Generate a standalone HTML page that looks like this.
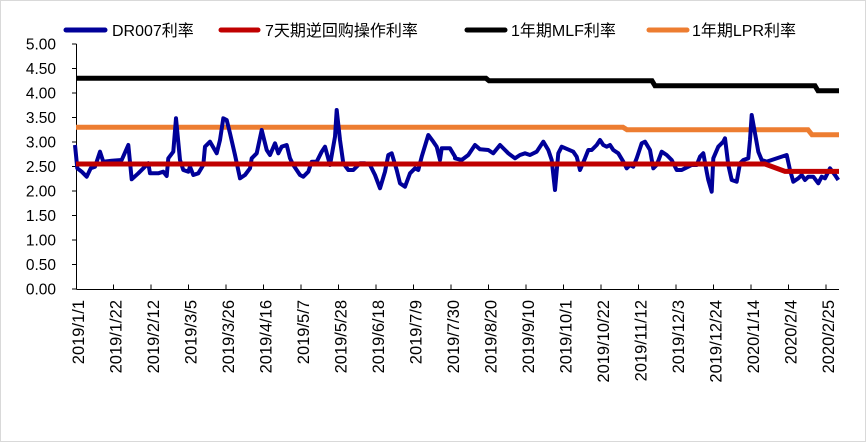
<!DOCTYPE html>
<html><head><meta charset="utf-8"><style>
body{margin:0;background:#fff;}
svg{display:block;font-family:"Liberation Sans","Noto Sans CJK SC",sans-serif;}
</style></head><body>
<svg id="s" width="866" height="442" xmlns="http://www.w3.org/2000/svg">
<rect x="0.5" y="0.5" width="865" height="441" fill="#fff" stroke="#d9d9d9"/>
<g font-size="16" fill="#000">
<line x1="66" y1="30" x2="105" y2="30" stroke="#000099" stroke-width="5" stroke-linecap="round"/>
<text x="112" y="36">DR007利率</text>
<line x1="221" y1="30" x2="258" y2="30" stroke="#c00000" stroke-width="5" stroke-linecap="round"/>
<text x="265" y="36">7天期逆回购操作利率</text>
<line x1="467" y1="30" x2="505" y2="30" stroke="#000" stroke-width="5" stroke-linecap="round"/>
<text x="511" y="36">1年期MLF利率</text>
<line x1="649" y1="30" x2="687" y2="30" stroke="#ed7d31" stroke-width="5" stroke-linecap="round"/>
<text x="692" y="36">1年期LPR利率</text>
</g>
<g id="ax" stroke="#000" stroke-width="1"></g>
<g id="yl" font-size="15.5" text-anchor="end"></g>
<g id="xl" font-size="16.5"></g>
<polyline points="76,78.3 486,78.3 489,80.8 652,80.8 655,85.8 815,85.8 818,90.8 839,90.8" fill="none" stroke="#000" stroke-width="5"/>
<polyline points="76,127.3 623,127.3 627,129.8 808,129.8 812,134.8 839,134.8" fill="none" stroke="#ed7d31" stroke-width="5"/>
<polyline id="dr" fill="none" stroke="#000099" stroke-width="4" stroke-linejoin="round"/>
<polyline points="76,164 765,164 785,171.4 839,171.4" fill="none" stroke="#c00000" stroke-width="5"/>
</svg>
<script>
var ns="http://www.w3.org/2000/svg";
function el(p,t,a,txt){var e=document.createElementNS(ns,t);for(var k in a)e.setAttribute(k,a[k]);if(txt)e.textContent=txt;document.getElementById(p).appendChild(e);}
el("ax","line",{x1:76.5,y1:44,x2:76.5,y2:289.5});
el("ax","line",{x1:76.5,y1:289.5,x2:839,y2:289.5});
for(var i=0;i<=10;i++){var y=289-i*24.5;el("ax","line",{x1:72,y1:y,x2:76.5,y2:y});el("yl","text",{x:56,y:y+5.5},(i*0.5).toFixed(2));}
var labs=["2019/1/1","2019/1/22","2019/2/12","2019/3/5","2019/3/26","2019/4/16","2019/5/7","2019/5/28","2019/6/18","2019/7/9","2019/7/30","2019/8/20","2019/9/10","2019/10/1","2019/10/22","2019/11/12","2019/12/3","2019/12/24","2020/1/14","2020/2/4","2020/2/25"];
for(var i=0;i<labs.length;i++){var x=76+i*37.5;if(i>0)el("ax","line",{x1:x,y1:284.5,x2:x,y2:289.5});el("xl","text",{x:0,y:0,transform:"translate("+(x+8)+",300) rotate(-90)","text-anchor":"end"},labs[i]);}
var a=[[15,135],[22,205],[35,215],[50,230],[62,205],[75,200],[90,155],[100,185],[125,182],[155,180],[175,135],[185,238],[205,220],[235,190],[240,220],[265,220],[280,215],[290,228],[295,175],[310,155],[318,55],[330,180],[340,210],[355,215],[360,200],[370,225],[385,220],[400,195],[405,140],[420,125],[440,160],[450,120],[460,55],[470,60],[480,100],[495,165],[510,235],[525,225],[540,205],[545,175],[560,160],[575,90],[590,150],[600,165],[615,130],[625,160],[635,140],[650,135],[660,175],[670,195],[690,225],[700,230],[715,215],[725,185],[740,185],[755,155],[765,140],[780,195],[795,110],[800,30],[810,120],[820,190],[835,210],[850,210],[870,190],[885,190],[900,195],[915,225],[930,265],[945,215],[955,165],[965,160],[980,210],[990,250],[1005,260],[1020,220],[1035,205],[1045,210],[1055,170],[1075,105],[1090,125],[1100,140],[1110,180],[1115,145],[1140,145],[1155,170]];
var b=[[0,175],[20,180],[40,165],[60,135],[75,148],[100,150],[115,160],[135,135],[150,150],[160,160],[180,175],[195,165],[210,160],[225,165],[245,155],[265,125],[280,150],[290,180],[300,270],[310,160],[320,140],[355,155],[365,170],[375,210],[390,175],[400,150],[410,150],[425,135],[435,120],[445,135],[455,140],[465,135],[475,150],[490,160],[505,185],[515,205],[525,195],[535,200],[545,175],[560,130],[570,125],[585,150],[595,205],[605,195],[620,155],[635,165],[650,180],[665,210],[680,210],[690,205],[710,195],[725,195],[735,170],[745,160],[755,215],[760,240],[770,275],[775,175],[790,140],[805,125],[810,115],[820,195],[830,240],[845,245],[855,190],[865,180],[880,175],[885,120],[890,45],[900,100],[910,155],[920,180],[935,185],[950,180],[995,165],[1005,210],[1015,245],[1030,235],[1040,225],[1050,240],[1060,230],[1075,230],[1090,250],[1100,230],[1110,235],[1125,205],[1140,225],[1150,240]];
var pts=[];a.forEach(function(p){pts.push((70+p[0]/3).toFixed(1)+","+(100+p[1]/3).toFixed(1));});
b.forEach(function(p){pts.push((455+p[0]/3).toFixed(1)+","+(100+p[1]/3).toFixed(1));});
document.getElementById("dr").setAttribute("points",pts.join(" "));
</script>
</body></html>
